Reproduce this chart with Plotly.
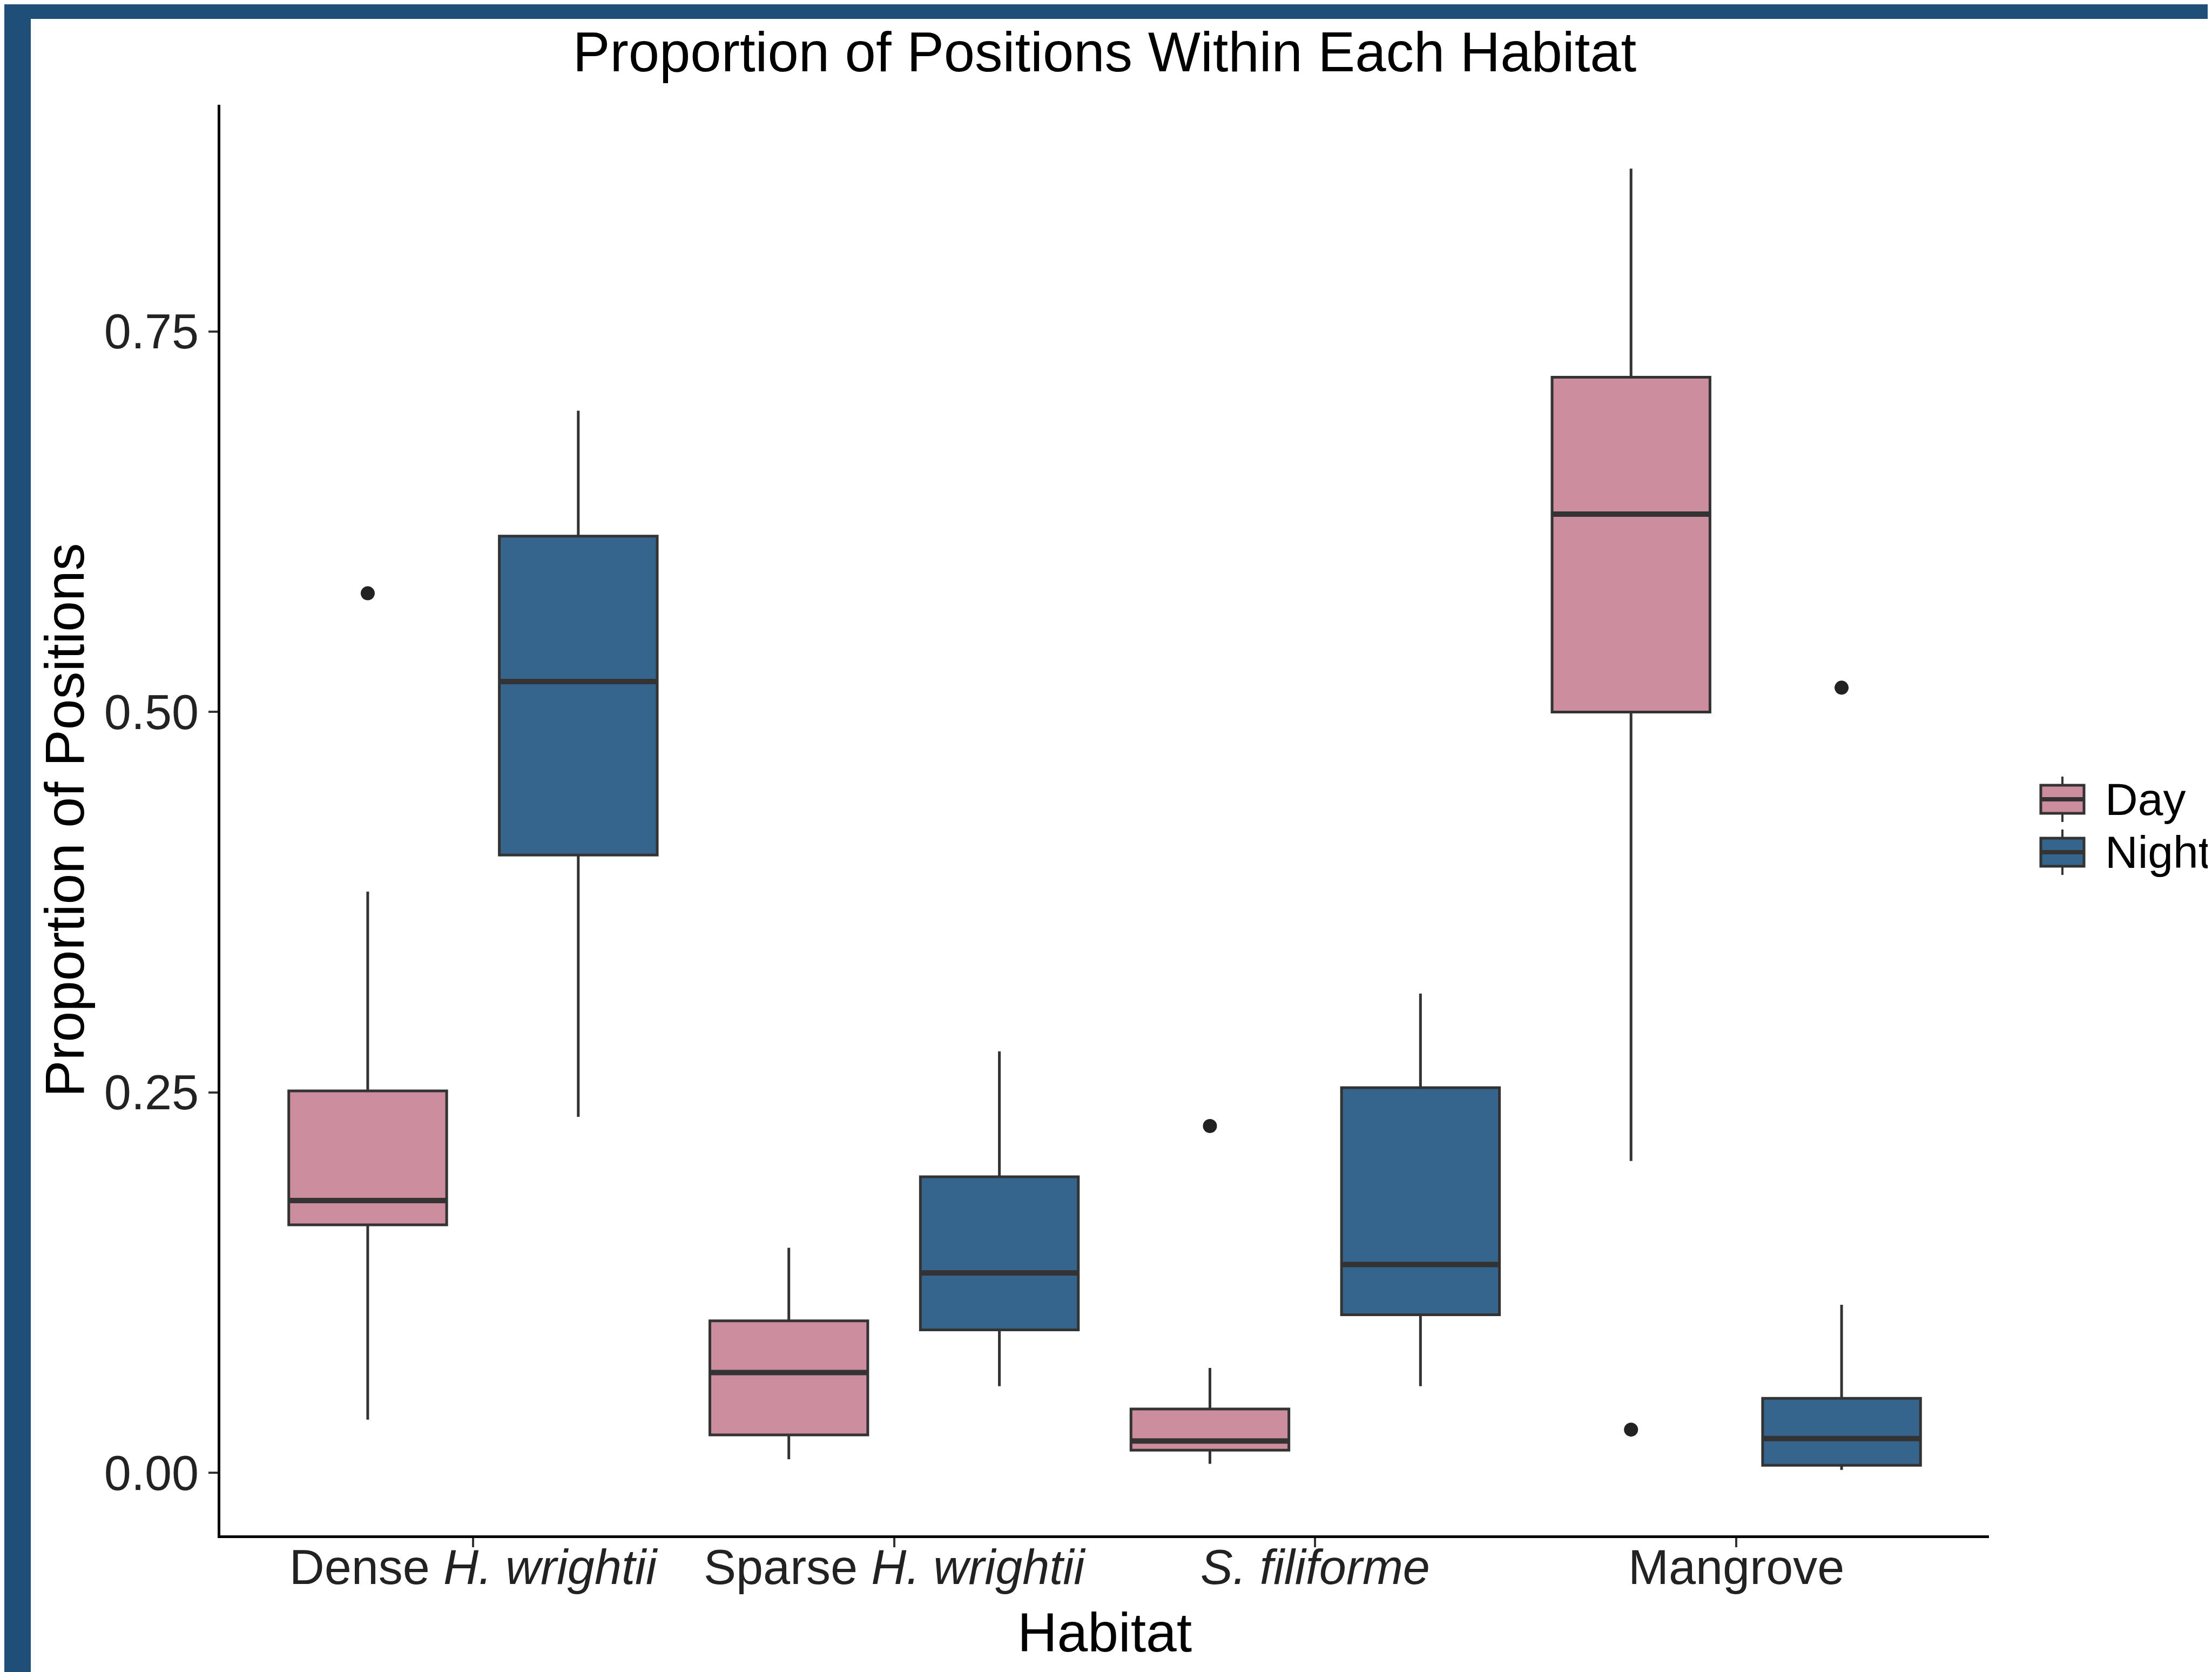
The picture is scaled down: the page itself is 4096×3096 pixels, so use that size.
import plotly.graph_objects as go

# ---------------- data ----------------
habitats = ["Dense H. wrightii", "Sparse H. wrightii", "S. filiforme", "Mangrove"]
habitat_labels = ["Dense <i>H. wrightii</i>", "Sparse <i>H. wrightii</i>",
                  "<i>S. filiforme</i>", "Mangrove"]
periods = ["Day", "Night"]

day_lower = [0.035, 0.009, 0.006, 0.205]
day_q1 = [0.163, 0.025, 0.015, 0.500]
day_median = [0.179, 0.066, 0.021, 0.630]
day_q3 = [0.251, 0.100, 0.042, 0.720]
day_upper = [0.382, 0.148, 0.069, 0.857]
day_outlier_habitat = ["Dense H. wrightii", "S. filiforme", "Mangrove"]
day_outlier_value = [0.578, 0.228, 0.0285]

night_lower = [0.234, 0.057, 0.057, 0.002]
night_q1 = [0.406, 0.094, 0.104, 0.005]
night_median = [0.520, 0.1315, 0.137, 0.0226]
night_q3 = [0.6156, 0.1946, 0.2532, 0.049]
night_upper = [0.698, 0.277, 0.315, 0.1105]
night_outlier_habitat = ["Mangrove"]
night_outlier_value = [0.516]

y_tick_values = [0.00, 0.25, 0.50, 0.75]
y_tick_labels = ["0.00", "0.25", "0.50", "0.75"]

# ---------------- style ----------------
W, H = 4096, 3096
ML, MR, MT, MB = 400, 421, 186, 261
PW, PH = W - ML - MR, H - MT - MB
FONT = "Liberation Sans, Arial, Helvetica, sans-serif"
FILL = {"Day": "#CC8E9E", "Night": "#35648C"}
OUTLINE = "#333333"
BORDER = "#1F4E78"
DODGE = {"Day": -0.25, "Night": 0.25}
BOX_W = 0.375

stats = {
    "Day": (day_lower, day_q1, day_median, day_q3, day_upper,
            day_outlier_habitat, day_outlier_value),
    "Night": (night_lower, night_q1, night_median, night_q3, night_upper,
              night_outlier_habitat, night_outlier_value),
}

def pos(habitat, period):
    return habitats.index(habitat) + 1 + DODGE[period]

fig = go.Figure()

for p in periods:
    lo, q1, med, q3, up, oh, ov = stats[p]
    xs = [pos(h, p) for h in habitats]
    fig.add_trace(go.Box(
        name=p, x=xs, q1=q1, median=med, q3=q3,
        lowerfence=lo, upperfence=up, width=BOX_W,
        fillcolor=FILL[p], line=dict(color=OUTLINE, width=5),
        boxpoints=False, whiskerwidth=0, showlegend=False, hoverinfo="skip",
    ))
    # thicker median line (ggplot fatten = 2)
    fig.add_trace(go.Box(
        name=p + " median", x=xs, q1=med, median=med, q3=med,
        lowerfence=med, upperfence=med, width=BOX_W,
        fillcolor="rgba(0,0,0,0)", line=dict(color=OUTLINE, width=10),
        boxpoints=False, whiskerwidth=0, showlegend=False, hoverinfo="skip",
    ))
    fig.add_trace(go.Scatter(
        x=[pos(h, p) for h in oh], y=ov, mode="markers",
        marker=dict(color="#222222", size=26), showlegend=False, hoverinfo="skip",
    ))

def px_x(px):
    return (px - ML) / PW

def px_y(py):
    return (H - MB - py) / PH

shapes = [
    # white page over blue frame (frame visible top & left)
    dict(type="rect", xref="paper", yref="paper", layer="below",
         x0=px_x(49), x1=px_x(W + 50), y0=px_y(H + 50), y1=px_y(27),
         fillcolor="white", line=dict(width=0)),
]
annotations = []

# manual legend (ggplot-style keys)
key_x0, key_x1 = 3771, 3851
key_cx = (key_x0 + key_x1) / 2
leg_centres = {"Day": 1472, "Night": 1570}
for p in periods:
    cy = leg_centres[p]
    shapes.append(dict(type="line", xref="paper", yref="paper",
                       x0=px_x(key_cx), x1=px_x(key_cx), y0=px_y(cy - 42), y1=px_y(cy + 42),
                       line=dict(color=OUTLINE, width=4)))
    shapes.append(dict(type="rect", xref="paper", yref="paper",
                       x0=px_x(key_x0), x1=px_x(key_x1), y0=px_y(cy + 26), y1=px_y(cy - 26),
                       fillcolor=FILL[p], line=dict(color=OUTLINE, width=5)))
    shapes.append(dict(type="line", xref="paper", yref="paper",
                       x0=px_x(key_x0), x1=px_x(key_x1), y0=px_y(cy), y1=px_y(cy),
                       line=dict(color=OUTLINE, width=8)))
    annotations.append(dict(text=p, xref="paper", yref="paper", showarrow=False,
                            x=px_x(3888), y=px_y(cy), xanchor="left", yanchor="middle",
                            font=dict(family=FONT, size=84, color="black")))

fig.update_layout(
    width=W, height=H, autosize=False,
    margin=dict(l=ML, r=MR, t=MT, b=MB),
    paper_bgcolor=BORDER, plot_bgcolor="white",
    font=dict(family=FONT, color="black"),
    title=dict(text="Proportion of Positions Within Each Habitat",
               x=0.5, xref="paper", xanchor="center",
               y=1 - 88 / H, yref="container", yanchor="middle",
               font=dict(family=FONT, size=103, color="black")),
    shapes=shapes, annotations=annotations, showlegend=False,
    xaxis=dict(range=[0.4, 4.6], tickvals=[1, 2, 3, 4], ticktext=habitat_labels,
               showline=True, linecolor="black", linewidth=5, mirror=False,
               ticks="outside", ticklen=17, tickwidth=4, tickcolor=OUTLINE,
               tickfont=dict(family=FONT, size=90, color="#222222"),
               ticklabelstandoff=-40,
               showgrid=False, zeroline=False,
               title=dict(text="Habitat", font=dict(family=FONT, size=102, color="black"),
                          standoff=37)),
    yaxis=dict(range=[-0.041, 0.899], tickvals=y_tick_values, ticktext=y_tick_labels,
               showline=True, linecolor="black", linewidth=5,
               ticks="outside", ticklen=17, tickwidth=4, tickcolor=OUTLINE,
               tickfont=dict(family=FONT, size=90, color="#222222"),
               showgrid=False, zeroline=False,
               title=dict(text="Proportion of Positions",
                          font=dict(family=FONT, size=102, color="black"),
                          standoff=5)),
)

fig.write_html("out.html")
